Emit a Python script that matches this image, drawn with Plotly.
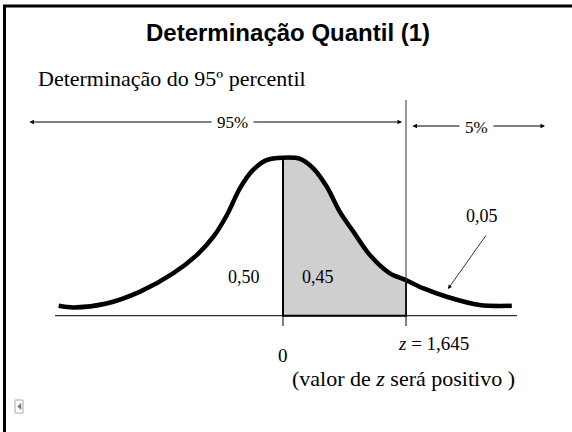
import plotly.graph_objects as go

# Hand-traced bell curve (standard normal units on x, density on y)
curve_z = [-3.00, -2.80, -2.36, -1.91, -1.47, -1.15, -0.93, -0.75, -0.575, -0.40, -0.22, 0.00,
           0.23, 0.405, 0.584, 0.76, 0.94, 1.16, 1.43, 1.645, 1.88, 2.19, 2.63, 3.06]
curve_h = [0.025, 0.021, 0.031, 0.061, 0.107, 0.154, 0.200, 0.255, 0.323, 0.369, 0.394, 0.400,
           0.397, 0.373, 0.327, 0.263, 0.213, 0.154, 0.107, 0.090, 0.069, 0.048, 0.027, 0.025]

z_crit = 1.645
label_left = "0,50"
label_mid = "0,45"
label_tail = "0,05"
pct_left = "95%"
pct_right = "5%"

W, H = 572, 432
PX0, PXU = 283.0, (406.0 - 283.0) / z_crit   # pixel of z=0, pixels per z unit
PY0, PYU = 315.7, 395.0                      # pixel of density 0, pixels per density unit


def zx(px):
    return (px - PX0) / PXU


def hy(py):
    return (PY0 - py) / PYU


fig = go.Figure()

# shaded area between 0 and z_crit
shade_z = [z for z in curve_z if 0 <= z <= z_crit]
shade_h = [h for z, h in zip(curve_z, curve_h) if 0 <= z <= z_crit]
fig.add_trace(go.Scatter(
    x=shade_z + [z_crit, 0, 0], y=shade_h + [0, 0, shade_h[0]],
    fill="toself", fillcolor="#cfcfcf", mode="lines",
    line=dict(color="black", width=2), hoverinfo="skip", showlegend=False))

# the curve itself
fig.add_trace(go.Scatter(
    x=curve_z, y=curve_h, mode="lines", line=dict(color="black", width=4.5, shape="spline", smoothing=0.9),
    hoverinfo="skip", showlegend=False))

# horizontal axis, ticks and critical line
fig.add_shape(type="line", x0=zx(55), x1=zx(517), y0=0, y1=0, line=dict(color="black", width=1))
for t in (0, z_crit):
    fig.add_shape(type="line", x0=t, x1=t, y0=0, y1=hy(326), line=dict(color="black", width=1))
fig.add_shape(type="line", x0=z_crit, x1=z_crit, y0=0, y1=hy(100), line=dict(color="#333333", width=1))

serif = "Liberation Serif, Times New Roman, serif"


def arrow(x0, x1, y):
    fig.add_annotation(x=x1, y=y, ax=x0, ay=y, axref="x", ayref="y", xref="x", yref="y",
                       text="", showarrow=True, arrowhead=2, arrowsize=0.9, arrowwidth=1,
                       arrowside="end+start", arrowcolor="black")


arrow(zx(28), zx(402), hy(122))
arrow(zx(411), zx(545), hy(126))
fig.add_annotation(x=zx(232), y=hy(122), text=pct_left, showarrow=False, bgcolor="white", borderpad=5,
                   font=dict(family=serif, size=17, color="black"))
fig.add_annotation(x=zx(476), y=hy(127), text=pct_right, showarrow=False, bgcolor="white", borderpad=5,
                   font=dict(family=serif, size=17, color="black"))

# tail pointer
fig.add_annotation(x=zx(448), y=hy(289), ax=zx(487), ay=hy(234), axref="x", ayref="y",
                   text="", showarrow=True, arrowhead=2, arrowsize=1, arrowwidth=0.8, arrowcolor="black")

for txt, px, py in ((label_left, 244, 277), (label_mid, 318, 277), (label_tail, 482, 216)):
    fig.add_annotation(x=zx(px), y=hy(py), text=txt, showarrow=False,
                       font=dict(family=serif, size=18, color="black"))

fig.add_annotation(x=0, y=hy(355), text="0", showarrow=False,
                   font=dict(family=serif, size=19, color="black"))
fig.add_annotation(x=zx(396), y=hy(343), text="<i>z</i> = 1,645", showarrow=False, xanchor="left",
                   font=dict(family=serif, size=19, color="black"))
fig.add_annotation(x=zx(403), y=hy(378), text="(valor de <i>z</i> será positivo )", showarrow=False,
                   font=dict(family=serif, size=22, color="black"))

# slide heading
fig.add_annotation(xref="paper", yref="paper", x=288 / W, y=1 - 33 / H, yanchor="middle", xanchor="center",
                   text="<b>Determinação Quantil (1)</b>", showarrow=False,
                   font=dict(family="Liberation Sans, Arial, sans-serif", size=24, color="black"))
fig.add_annotation(xref="paper", yref="paper", x=36 / W, y=1 - 78 / H, xanchor="left", yanchor="middle",
                   text="Determinação do 95º percentil", showarrow=False,
                   font=dict(family=serif, size=22, color="black"))

# slide frame and small corner marker
fig.add_shape(type="line", xref="paper", yref="paper", x0=3 / W, x1=1, y0=1 - 6 / H, y1=1 - 6 / H,
              line=dict(color="black", width=3))
fig.add_shape(type="line", xref="paper", yref="paper", x0=4.5 / W, x1=4.5 / W, y0=0, y1=1 - 5 / H,
              line=dict(color="black", width=3))
fig.add_shape(type="rect", xref="paper", yref="paper", x0=15 / W, x1=23 / W, y0=1 - 413 / H, y1=1 - 400 / H,
              line=dict(color="#aaaaaa", width=1), fillcolor="white")
fig.add_shape(type="path", xref="paper", yref="paper",
              path=f"M {21/W} {1-403.5/H} L {17.5/W} {1-406.5/H} L {21/W} {1-409.5/H} Z",
              line=dict(color="#777777", width=0.5), fillcolor="#777777")

fig.update_layout(
    width=W, height=H, margin=dict(l=0, r=0, t=0, b=0),
    paper_bgcolor="white", plot_bgcolor="white",
    xaxis=dict(range=[zx(0), zx(W)], visible=False, fixedrange=True),
    yaxis=dict(range=[hy(H), hy(0)], visible=False, fixedrange=True),
)

fig.write_html("out.html")
